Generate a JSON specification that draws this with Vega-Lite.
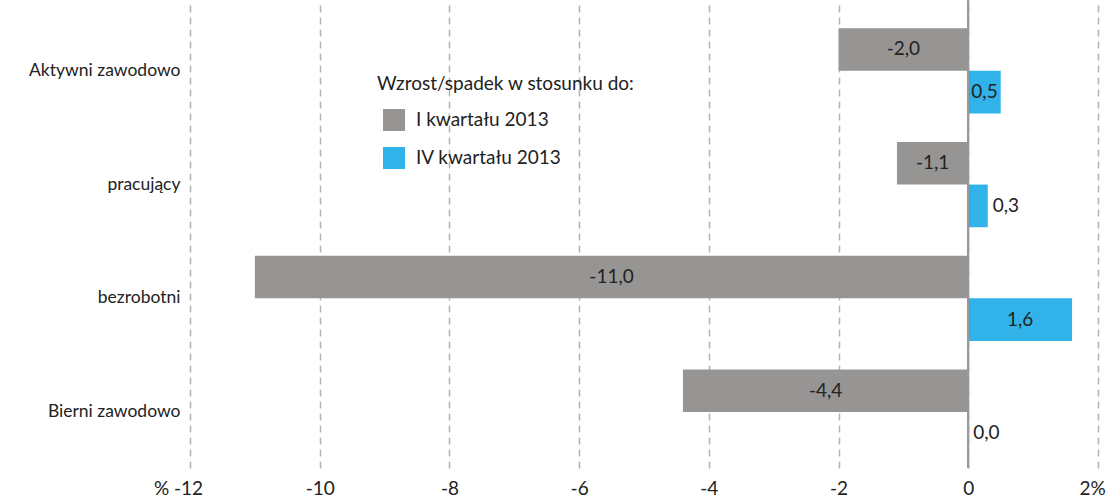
{
  "$schema": "https://vega.github.io/schema/vega-lite/v6.json",
  "width": 908,
  "height": 468,
  "autosize": {"type": "none"},
  "padding": {"left": 190, "top": 0, "right": 19, "bottom": 29},
  "background": "white",
  "config": {
    "view": {"stroke": null},
    "font": "Lato",
    "axis": {"labelFont": "Lato", "labelFontSize": 19, "labelColor": "#222222"}
  },
  "data": {
    "values": [
      {"cat": "Aktywni zawodowo", "series": "I kwartału 2013", "value": -2.0, "label": "-2,0"},
      {"cat": "Aktywni zawodowo", "series": "IV kwartału 2013", "value": 0.5, "label": "0,5"},
      {"cat": "pracujący", "series": "I kwartału 2013", "value": -1.1, "label": "-1,1"},
      {"cat": "pracujący", "series": "IV kwartału 2013", "value": 0.3, "label": "0,3"},
      {"cat": "bezrobotni", "series": "I kwartału 2013", "value": -11.0, "label": "-11,0"},
      {"cat": "bezrobotni", "series": "IV kwartału 2013", "value": 1.6, "label": "1,6"},
      {"cat": "Bierni zawodowo", "series": "I kwartału 2013", "value": -4.4, "label": "-4,4"},
      {"cat": "Bierni zawodowo", "series": "IV kwartału 2013", "value": 0.0, "label": "0,0"}
    ]
  },
  "encoding": {
    "y": {
      "field": "cat",
      "type": "nominal",
      "sort": ["Aktywni zawodowo", "pracujący", "bezrobotni", "Bierni zawodowo"],
      "scale": {"paddingInner": 0.25, "paddingOuter": 0.182, "align": 0.68},
      "axis": {"title": null, "domain": false, "ticks": false, "tickSize": 0, "labelPadding": 10, "labelFontSize": 17.5}
    },
    "yOffset": {"field": "series", "type": "nominal", "sort": ["I kwartału 2013", "IV kwartału 2013"]}
  },
  "layer": [
    {
      "mark": {"type": "bar"},
      "encoding": {
        "x": {
          "field": "value",
          "type": "quantitative",
          "scale": {"domain": [-12, 2], "nice": false, "zero": false},
          "axis": {
            "title": null,
            "domain": false,
            "ticks": false,
            "tickSize": 0,
            "values": [-12, -10, -8, -6, -4, -2, 0, 2],
            "labelPadding": 26,
            "labelBaseline": "alphabetic",
            "labelFlush": false,
            "labelExpr": "datum.value == -12 ? '% -12' : datum.value == 2 ? '2%' : (datum.value < 0 ? '-' + abs(datum.value) : '' + datum.value)",
            "labelOffset": {"condition": [{"test": "datum.value == -12", "value": -12}, {"test": "datum.value == 2", "value": -6}], "value": 0},
            "grid": true,
            "gridColor": "#b3b3b3",
            "gridDash": [7, 5],
            "gridWidth": 1.5
          }
        },
        "color": {
          "field": "series",
          "type": "nominal",
          "scale": {"domain": ["I kwartału 2013", "IV kwartału 2013"], "range": ["#969594", "#31b2e8"]},
          "legend": {
            "title": "Wzrost/spadek w stosunku do:",
            "orient": "none",
            "legendX": 187,
            "legendY": 75,
            "symbolType": "square",
            "symbolSize": 484,
            "symbolOffset": 6,
            "symbolStrokeWidth": 0,
            "titleFont": "Lato",
            "titleFontSize": 19,
            "titleFontWeight": "normal",
            "titleColor": "#222222",
            "titleLimit": 500,
            "titlePadding": 15,
            "labelFont": "Lato",
            "labelFontSize": 19,
            "labelColor": "#222222",
            "labelOffset": 11,
            "labelLimit": 300,
            "rowPadding": 16
          }
        }
      }
    },
    {
      "mark": {"type": "rule", "color": "#999999", "strokeWidth": 1.5},
      "encoding": {"x": {"datum": 0, "type": "quantitative"}, "y": null, "yOffset": null}
    },
    {
      "transform": [
        {"filter": "!(datum.series == 'IV kwartału 2013' && datum.value < 0.4)"},
        {"calculate": "datum.value / 2", "as": "mid"}
      ],
      "mark": {"type": "text", "font": "Lato", "fontSize": 19, "color": "#222222", "align": "center", "baseline": "middle"},
      "encoding": {
        "x": {"field": "mid", "type": "quantitative"},
        "text": {"field": "label"}
      }
    },
    {
      "transform": [
        {"filter": "datum.series == 'IV kwartału 2013' && datum.value < 0.4"}
      ],
      "mark": {"type": "text", "font": "Lato", "fontSize": 19, "color": "#222222", "align": "left", "baseline": "middle", "dx": 5},
      "encoding": {
        "x": {"field": "value", "type": "quantitative"},
        "text": {"field": "label"}
      }
    }
  ]
}
